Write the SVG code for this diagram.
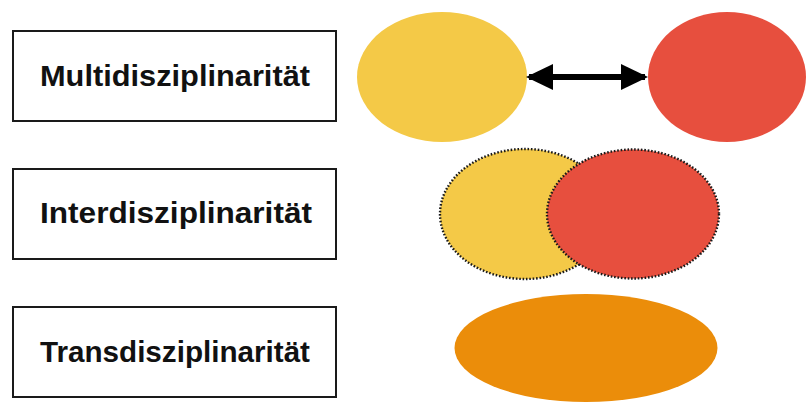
<svg xmlns="http://www.w3.org/2000/svg" width="809" height="403" viewBox="0 0 809 403">
  <defs>
    <style>
      .box { fill: #ffffff; stroke: #1a1a1a; stroke-width: 2; }
      .label { font-family: "Liberation Sans", Arial, sans-serif; font-size: 29px; font-weight: bold; fill: #111111; text-anchor: middle; }
      .yellow { fill: #F4C947; }
      .red { fill: #E74F3E; }
      .orange { fill: #EB8D0A; }
      .dotted { stroke: #1a1a1a; stroke-width: 2.4; stroke-dasharray: 1.6 1.8; }
      .arrow { stroke: #000000; stroke-width: 6; fill: none; }
    </style>
    <marker id="head" viewBox="0 0 27 26" refX="24" refY="13" markerWidth="27" markerHeight="26" orient="auto-start-reverse" markerUnits="userSpaceOnUse">
      <path d="M0,0 L27,13 L0,26 Z" fill="#000000"/>
    </marker>
  </defs>

  <rect width="809" height="403" fill="#ffffff"/>

  <!-- labels -->
  <g id="multi">
    <rect class="box" x="13" y="31" width="323" height="90"/>
    <text class="label" x="175" y="86" textLength="270" lengthAdjust="spacingAndGlyphs">Multidisziplinarität</text>
  </g>
  <g id="inter">
    <rect class="box" x="13" y="169" width="323" height="90"/>
    <text class="label" x="176" y="223" textLength="272" lengthAdjust="spacingAndGlyphs">Interdisziplinarität</text>
  </g>
  <g id="trans">
    <rect class="box" x="13" y="307" width="323" height="90"/>
    <text class="label" x="175" y="362" textLength="270" lengthAdjust="spacingAndGlyphs">Transdisziplinarität</text>
  </g>

  <!-- multidisciplinarity: separate disciplines -->
  <g id="multi-a">
    <ellipse class="yellow" cx="442" cy="77" rx="85" ry="65"/>
  </g>
  <g id="multi-b">
    <ellipse class="red" cx="727" cy="77" rx="79" ry="65"/>
  </g>

  <!-- interdisciplinarity: overlapping disciplines -->
  <g id="inter-a">
    <ellipse class="yellow dotted" cx="525" cy="214" rx="85" ry="65"/>
  </g>
  <g id="inter-b">
    <ellipse class="red dotted" cx="633" cy="214" rx="86" ry="64.5"/>
  </g>

  <!-- transdisciplinarity: merged -->
  <g id="trans-a">
    <ellipse class="orange" cx="586" cy="348" rx="131.5" ry="54"/>
  </g>

  <!-- connectors -->
  <g id="connectors">
    <line class="arrow" x1="529" y1="77" x2="645" y2="77" marker-start="url(#head)" marker-end="url(#head)"/>
  </g>
</svg>
